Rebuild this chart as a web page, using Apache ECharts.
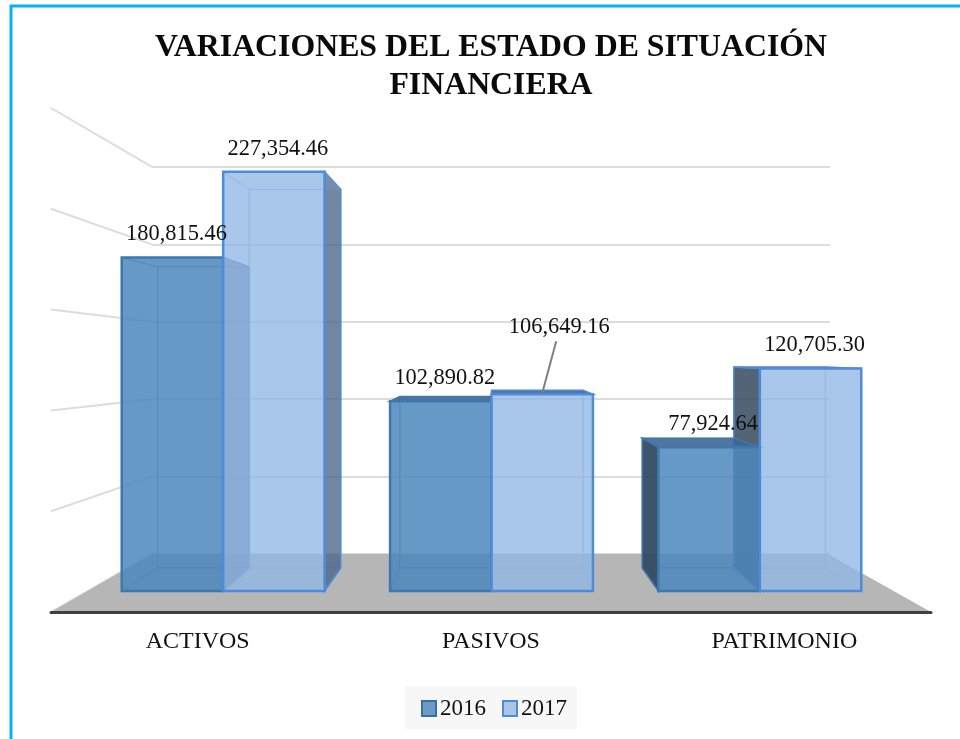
<!DOCTYPE html>
<html><head><meta charset="utf-8">
<style>html,body{margin:0;padding:0;background:#fff}#c{width:960px;height:739px}</style>
<script src="https://cdn.jsdelivr.net/npm/echarts@6/dist/echarts.min.js"></script>
</head><body><div id="c"></div>
<script>
const categories = ['ACTIVOS', 'PASIVOS', 'PATRIMONIO'];
const values2016 = [180815.46, 102890.82, 77924.64];
const values2017 = [227354.46, 106649.16, 120705.30];
const wallTicks = [0, 50000, 100000, 150000, 200000, 250000];
const AXIS_MAX = 250000;
const titleText = 'VARIACIONES DEL ESTADO DE SITUACIÓN\nFINANCIERA';

const SERIF = '"Liberation Serif","Times New Roman",serif';
const VY = 353, BACK = 0.903, BAR_RATIO = 0.378;
const WALL_VP = [486, 362], WALL_RATIO = 0.768;
const LEADER = {series: '2017', category: 1, dx: 17, dy: -67};

const look = {
  '2016': {sign: -1, front: 'rgba(78,136,188,0.84)', inner: 'rgba(78,136,188,0.12)', left: 'rgba(52,75,98,0.95)', right: 'rgba(70,95,130,0.75)',
           top: 'rgba(62,104,150,0.9)', edge: '#3f78ae', soft: 'rgba(63,120,174,0.5)', z: 10},
  '2017': {sign: 1, front: 'rgba(146,183,229,0.76)', inner: 'rgba(146,183,229,0.12)', left: 'rgba(62,80,100,0.88)', right: 'rgba(72,96,132,0.75)',
           top: 'rgba(60,104,160,0.9)', edge: '#4f8bd6', soft: 'rgba(120,165,222,0.45)', z: 11}
};

const fmt = v => v.toLocaleString('en-US', {minimumFractionDigits: 2, maximumFractionDigits: 2});

function barRenderer(name) {
  const L = look[name];
  return function (params, api) {
    const i = api.value(0), v = api.value(1);
    const VX = params.coordSys.x + params.coordSys.width / 2;
    const w = api.size([1, 0])[0] * BAR_RATIO;
    const cx = api.coord([i, 0])[0], base = api.coord([i, 0])[1], top = api.coord([i, v])[1];
    const xa = L.sign < 0 ? cx - w : cx, xb = L.sign < 0 ? cx : cx + w;
    const back = p => [VX + (p[0] - VX) * BACK, VY + (p[1] - VY) * BACK];
    const tl = [xa, top], tr = [xb, top], br = [xb, base], bl = [xa, base];
    const TL = back(tl), TR = back(tr), BR = back(br), BL = back(bl);
    const face = (pts, fill, stroke, lw, z2) => ({
      type: 'polygon', z2, shape: {points: pts}, style: {fill, stroke, lineWidth: lw, lineJoin: 'miter'}
    });
    const leftOut = xa > VX + 1, rightOut = xb < VX - 1, topOut = top > VY;
    const kids = [
      face([TL, TR, BR, BL], L.inner, L.soft, 1, 1),
      face([BL, BR, br, bl], L.inner, L.soft, 1, 2),
      face([tl, TL, BL, bl], leftOut ? L.left : L.inner, leftOut ? L.edge : L.soft, leftOut ? 1.5 : 1, 3),
      face([tr, TR, BR, br], rightOut ? L.right : L.inner, rightOut ? L.edge : L.soft, rightOut ? 1.5 : 1, 3),
      face([tl, tr, TR, TL], topOut ? L.top : L.inner, topOut ? L.edge : L.soft, topOut ? 1.5 : 1, 4),
      face([tl, tr, br, bl], L.front, L.edge, 2.5, L.z)
    ];
    const center = (xa + xb) / 2;
    let tx = center + 4, ty = top - 23;
    if (name === LEADER.series && i === LEADER.category) {
      tx = center + LEADER.dx; ty = top + LEADER.dy;
      kids.push({type: 'line', z2: 20, shape: {x1: tx - 3, y1: ty + 14, x2: center, y2: top - 1},
        style: {stroke: '#7f7f7f', lineWidth: 2}});
    }
    kids.push({type: 'text', z2: 30, style: {x: tx, y: ty, text: fmt(v), fill: '#111', align: 'center', verticalAlign: 'middle',
      font: '22.4px ' + SERIF}});
    return {type: 'group', children: kids};
  };
}

const chart = echarts.init(document.getElementById('c'), null, {renderer: 'canvas'});
const toData = arr => arr.map((v, i) => [i, v]);
const hiddenCat = g => ({type: 'category', gridIndex: g, data: categories, show: false});
const hiddenVal = g => ({type: 'value', gridIndex: g, min: 0, max: AXIS_MAX, interval: 50000, show: false, splitLine: {show: false}});

chart.setOption({
  animation: false,
  backgroundColor: '#fff',
  title: {text: titleText, left: 486, top: 24, textAlign: 'center',
    textStyle: {fontFamily: SERIF, fontWeight: 'bold', fontSize: 31.8, lineHeight: 38, color: '#0a0a0a'}},
  graphic: [{type: 'rect', silent: true, shape: {x: 11, y: 6, width: 1000, height: 800},
    style: {fill: 'none', stroke: '#05b3f0', lineWidth: 3}}],
  legend: {
    left: 405, top: 686, padding: [11, 10, 9, 16], backgroundColor: '#f7f7f7', itemWidth: 14, itemHeight: 15, itemGap: 16,
    textStyle: {fontFamily: SERIF, fontSize: 23, color: '#111', padding: [0, 0, 0, -1]},
    data: [
      {name: '2016', icon: 'rect', itemStyle: {color: '#6a9ac6', borderColor: '#3d6f9e', borderWidth: 2}},
      {name: '2017', icon: 'rect', itemStyle: {color: '#a9c5e8', borderColor: '#4f8bd6', borderWidth: 2}}
    ]
  },
  grid: [
    {left: 152, right: 130, top: 167, bottom: 185},
    {left: 51, right: 29, top: 108, bottom: 127},
    {left: 89, right: 66, top: 130, bottom: 148}
  ],
  xAxis: [
    hiddenCat(0),
    {type: 'category', gridIndex: 1, data: categories, z: 3, axisTick: {show: false},
      axisLine: {lineStyle: {color: '#404040', width: 3}},
      axisLabel: {margin: 18, color: '#111', fontFamily: SERIF, fontSize: 24}},
    hiddenCat(2)
  ],
  yAxis: [
    {type: 'value', gridIndex: 0, min: 0, max: AXIS_MAX, interval: 50000,
      axisLabel: {show: false}, axisLine: {show: false}, axisTick: {show: false},
      splitLine: {show: true, lineStyle: {color: '#dcdcdc', width: 2}}},
    hiddenVal(1), hiddenVal(2)
  ],
  series: [
    {type: 'custom', name: 'wall', coordinateSystem: 'cartesian2d', xAxisIndex: 1, yAxisIndex: 1, z: 1, silent: true,
      data: wallTicks.map(t => [0, t]),
      renderItem(params, api) {
        const y = api.coord([0, api.value(1)])[1], x = params.coordSys.x;
        const bx = WALL_VP[0] + (x - WALL_VP[0]) * WALL_RATIO, by = WALL_VP[1] + (y - WALL_VP[1]) * WALL_RATIO;
        return {type: 'line', shape: {x1: x, y1: y, x2: bx, y2: by}, style: {stroke: '#dcdcdc', lineWidth: 2}};
      }},
    {type: 'custom', name: 'floor', coordinateSystem: 'cartesian2d', xAxisIndex: 1, yAxisIndex: 1, z: 2, silent: true,
      data: [[0, 0]],
      renderItem(params, api) {
        const cs = params.coordSys, y = api.coord([0, 0])[1];
        const back = (x, yy) => [WALL_VP[0] + (x - WALL_VP[0]) * WALL_RATIO, WALL_VP[1] + (yy - WALL_VP[1]) * WALL_RATIO];
        return {type: 'polygon', shape: {points: [[cs.x, y], [cs.x + cs.width, y], back(cs.x + cs.width, y), back(cs.x, y)]},
          style: {fill: '#b6b6b6'}};
      }},
    {type: 'custom', name: '2016', coordinateSystem: 'cartesian2d', xAxisIndex: 2, yAxisIndex: 2, z: 5,
      encode: {x: 0, y: 1}, data: toData(values2016), renderItem: barRenderer('2016')},
    {type: 'custom', name: '2017', coordinateSystem: 'cartesian2d', xAxisIndex: 2, yAxisIndex: 2, z: 5,
      encode: {x: 0, y: 1}, data: toData(values2017), renderItem: barRenderer('2017')}
  ]
});
</script></body></html>
